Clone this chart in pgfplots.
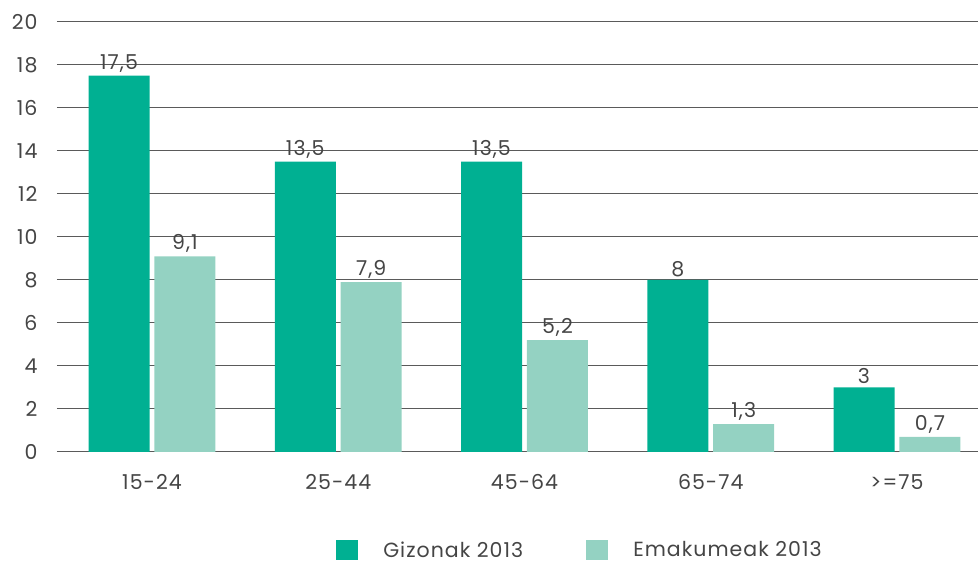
\documentclass[border=0pt]{standalone}
\usepackage{fontspec}
\setmainfont[LetterSpace=5]{Poppins}
\usepackage{pgfplots}
\pgfplotsset{compat=1.18}
\definecolor{gdark}{HTML}{00B092}
\definecolor{glight}{HTML}{94D2C2}
\definecolor{txt}{HTML}{454545}
\definecolor{gridc}{HTML}{5A5A5A}
\begin{document}
\begin{tikzpicture}
\begin{axis}[
  name=ax,
  scale only axis, width=921pt, height=430pt,
  xmin=-0.51, xmax=4.435, ymin=0, ymax=20,
  ytick={0,2,...,20},
  xtick={0,1,2,3,4},
  xticklabels={15-24,25-44,45-64,65-74,{>=75}},
  axis line style={draw=none},
  major tick length=0pt,
  ymajorgrids, grid style={gridc, line width=1pt},
  font=\fontsize{20.5}{24}\selectfont,
  tick label style={text=txt},
  yticklabel style={xshift=-16pt},
  xticklabel style={yshift=-19pt},
  /pgf/number format/assume math mode=true,
  /pgf/number format/use comma,
  ybar, bar width=0.3275,
  nodes near coords,
  nodes near coords style={text=txt},
  legend style={at={(0.303,-0.228)}, anchor=west, draw=none, fill=none,
    inner sep=0pt, text=txt, nodes={inner sep=1pt},
    /tikz/every even column/.append style={column sep=62pt}},
  legend columns=2,
]
\addplot[fill=gdark, draw=none, bar shift=-0.177,
  legend image code/.code={\fill[gdark] (0pt,-10pt) rectangle (22pt,10pt); \path (46pt,0pt);}]
  coordinates {(0,17.5) (1,13.5) (2,13.5) (3,8) (4,3)};
\addplot[fill=glight, draw=none, bar shift=0.177,
  legend image code/.code={\fill[glight] (0pt,-10pt) rectangle (22pt,10pt); \path (46pt,0pt);}]
  coordinates {(0,9.1) (1,7.9) (2,5.2) (3,1.3) (4,0.7)};
\legend{Gizonak 2013, Emakumeak 2013}
\end{axis}
\pgfresetboundingbox
\path ([shift={(-57pt,-112pt)}]ax.south west) rectangle ([shift={(0pt,22pt)}]ax.north east);
\end{tikzpicture}
\end{document}
